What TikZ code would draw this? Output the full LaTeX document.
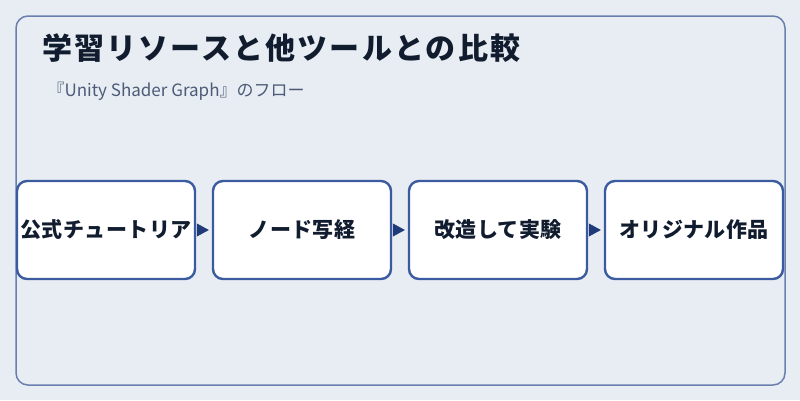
\documentclass[tikz,border=0pt]{standalone}
\usepackage{fontspec}
\setmainfont{Noto Sans CJK JP}
\usetikzlibrary{arrows.meta,positioning}
\definecolor{bgcol}{HTML}{E8EDF3}
\definecolor{framecol}{HTML}{6A7FAE}
\definecolor{boxcol}{HTML}{3A5BA0}
\definecolor{arrowcol}{HTML}{1E3A78}
\definecolor{titlecol}{HTML}{111C2E}
\definecolor{subcol}{HTML}{4B5B78}

\begin{document}
\begin{tikzpicture}[x=1pt,y=-1pt,node distance=196pt,
    stepbox/.style={draw=boxcol,line width=2.4pt,fill=white,rounded corners=10pt,
      minimum width=178pt,minimum height=98pt,inner sep=0pt,
      font=\fontsize{21}{24}\selectfont\bfseries\addfontfeature{LetterSpace=2},text=titlecol},
    flow/.style={color=arrowcol,-{Triangle[length=12pt,width=13pt]},
      shorten >=3pt,shorten <=3pt}]

        \fill[bgcol] (0,0) rectangle (800,400);
        \useasboundingbox (0,0) rectangle (800,400);
        \draw[framecol,line width=1.5pt,rounded corners=12pt] (16,16) rectangle (785,385);

        \node[anchor=base west,text=titlecol,
          font=\fontsize{30}{34}\selectfont\bfseries\addfontfeature{LetterSpace=7}]
          (title) at (39,59) {学習リソースと他ツールとの比較};
        \node[anchor=base west,text=subcol,font=\fontsize{17}{20}\selectfont]
          (subtitle) at (44,96) {『Unity Shader Graph』のフロー};

        \node[stepbox]  (S01) at (106,230)  {公式チュートリア};
        \node[stepbox]  (S02) [right of=S01] {ノード写経};
        \node[stepbox]  (S03) [right of=S02] {改造して実験};
        \node[stepbox]  (S04) [right of=S03] {オリジナル作品};

        \path[flow] (S01) edge (S02)
                    (S02) edge (S03)
                    (S03) edge (S04);
      \end{tikzpicture}
\end{document}
